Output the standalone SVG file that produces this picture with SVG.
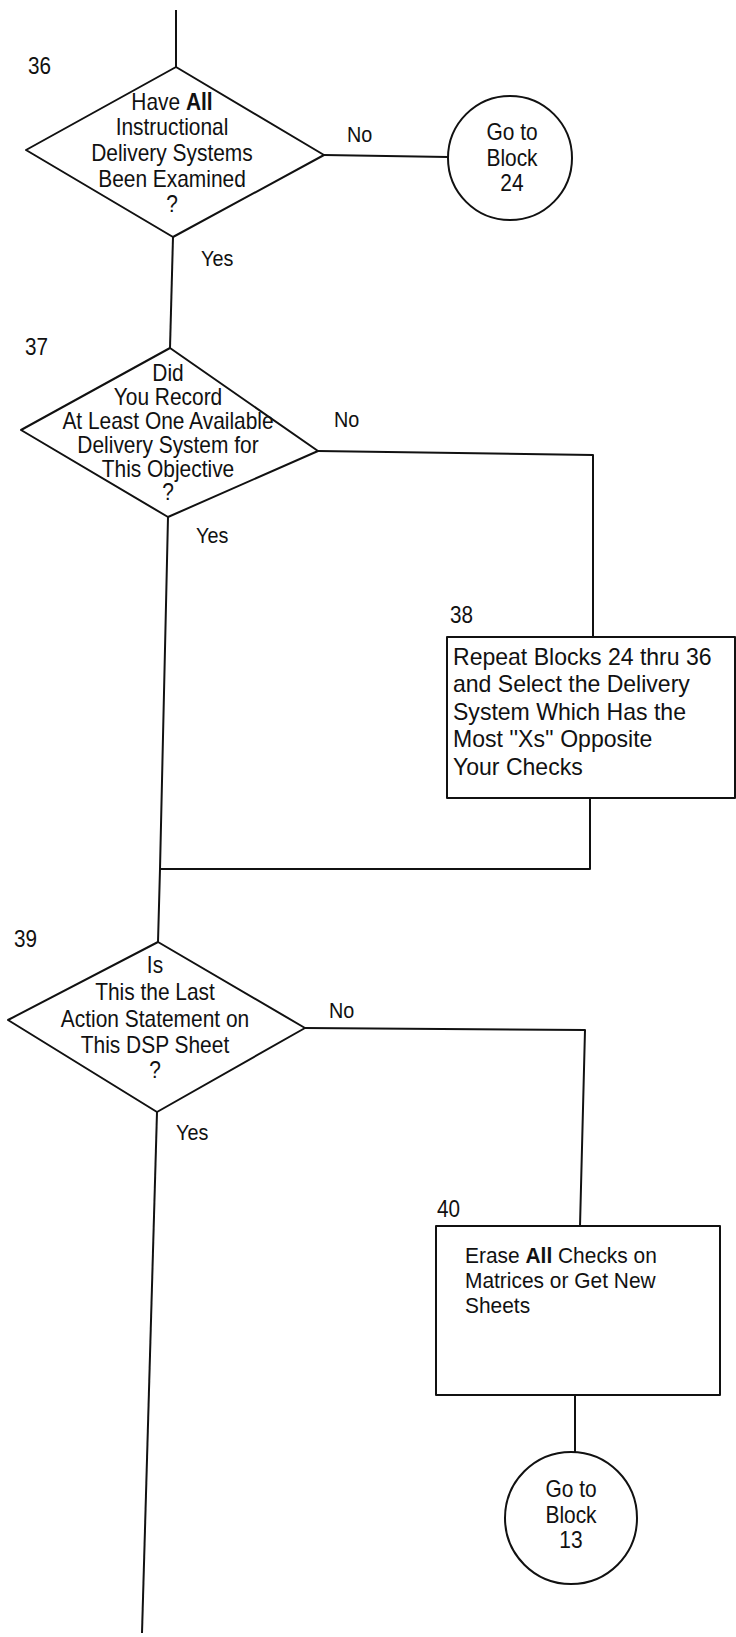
<svg xmlns="http://www.w3.org/2000/svg" width="736" height="1637" viewBox="0 0 736 1637">
<style>
.ln{fill:none;stroke:#111;stroke-width:2;stroke-linejoin:round}
.sh{fill:#fff;stroke:#111;stroke-width:2;stroke-linejoin:round}
text{font-family:"Liberation Sans",Arial,sans-serif;fill:#111}
.t{font-size:23px;text-anchor:middle}
.b{font-size:24px}
.b2{font-size:22.5px}
.n{font-size:23px}
.lb{font-size:22px}
</style>
<rect width="736" height="1637" fill="#fff"/>
<g id="connectors">
<path class="ln" d="M176,10 L176,67"/>
<path class="ln" d="M324,155 L448,157"/>
<path class="ln" d="M173,237 L170,348"/>
<path class="ln" d="M318,451 L593,455 L593,637"/>
<path class="ln" d="M168,517 L160,869 L158,942"/>
<path class="ln" d="M590,798 L590,869 L160,869"/>
<path class="ln" d="M305,1028 L585,1030 L580,1226"/>
<path class="ln" d="M575,1395 L575,1452"/>
<path class="ln" d="M157,1112 L142,1633"/>
<g transform="translate(347 142) scale(0.9 1)"><text class="lb">No</text></g>
<g transform="translate(201 266) scale(0.9 1)"><text class="lb">Yes</text></g>
<g transform="translate(334 427) scale(0.9 1)"><text class="lb">No</text></g>
<g transform="translate(196 543) scale(0.9 1)"><text class="lb">Yes</text></g>
<g transform="translate(329 1018) scale(0.9 1)"><text class="lb">No</text></g>
<g transform="translate(176 1140) scale(0.9 1)"><text class="lb">Yes</text></g>
</g>
<g id="n36">
<g transform="translate(28 74) scale(0.9 1)"><text class="n">36</text></g>
<polygon class="sh" points="176,67 324,155 173,237 26,150"/>
<g transform="translate(172 0) scale(0.91 1)">
<text class="t" y="110">Have <tspan font-weight="bold">All</tspan></text>
<text class="t" y="135">Instructional</text>
<text class="t" y="161">Delivery Systems</text>
<text class="t" y="187">Been Examined</text>
<text class="t" y="212">?</text>
</g>
</g>
<g id="c24">
<circle class="sh" cx="510" cy="158" r="62"/>
<g transform="translate(512 0) scale(0.91 1)">
<text class="t" y="140">Go to</text>
<text class="t" y="166">Block</text>
<text class="t" y="191">24</text>
</g>
</g>
<g id="n37">
<g transform="translate(25 355) scale(0.9 1)"><text class="n">37</text></g>
<polygon class="sh" points="170,348 318,451 168,517 21,430"/>
<g transform="translate(168 0) scale(0.91 1)">
<text class="t" y="381">Did</text>
<text class="t" y="405">You Record</text>
<text class="t" y="429">At Least One Available</text>
<text class="t" y="453">Delivery System for</text>
<text class="t" y="477">This Objective</text>
<text class="t" y="500">?</text>
</g>
</g>
<g id="n38">
<g transform="translate(450 623) scale(0.9 1)"><text class="n">38</text></g>
<rect class="sh" x="447" y="637" width="288" height="161"/>
<g transform="translate(453 0) scale(0.96 1)">
<text class="b" y="665">Repeat Blocks 24 thru 36</text>
<text class="b" y="692">and Select the Delivery</text>
<text class="b" y="720">System Which Has the</text>
<text class="b" y="747">Most ''Xs'' Opposite</text>
<text class="b" y="775">Your Checks</text>
</g>
</g>
<g id="n39">
<g transform="translate(14 947) scale(0.9 1)"><text class="n">39</text></g>
<polygon class="sh" points="158,942 305,1028 157,1112 8,1020"/>
<g transform="translate(155 0) scale(0.91 1)">
<text class="t" y="973">Is</text>
<text class="t" y="1000">This the Last</text>
<text class="t" y="1027">Action Statement on</text>
<text class="t" y="1053">This DSP Sheet</text>
<text class="t" y="1078">?</text>
</g>
</g>
<g id="n40">
<g transform="translate(437 1217) scale(0.9 1)"><text class="n">40</text></g>
<rect class="sh" x="436" y="1226" width="284" height="169"/>
<g transform="translate(465 0) scale(0.93 1)">
<text class="b2" y="1263">Erase <tspan font-weight="bold">All</tspan> Checks on</text>
<text class="b2" y="1288">Matrices or Get New</text>
<text class="b2" y="1313">Sheets</text>
</g>
</g>
<g id="c13">
<circle class="sh" cx="571" cy="1518" r="66"/>
<g transform="translate(571 0) scale(0.91 1)">
<text class="t" y="1497">Go to</text>
<text class="t" y="1523">Block</text>
<text class="t" y="1548">13</text>
</g>
</g>
</svg>
